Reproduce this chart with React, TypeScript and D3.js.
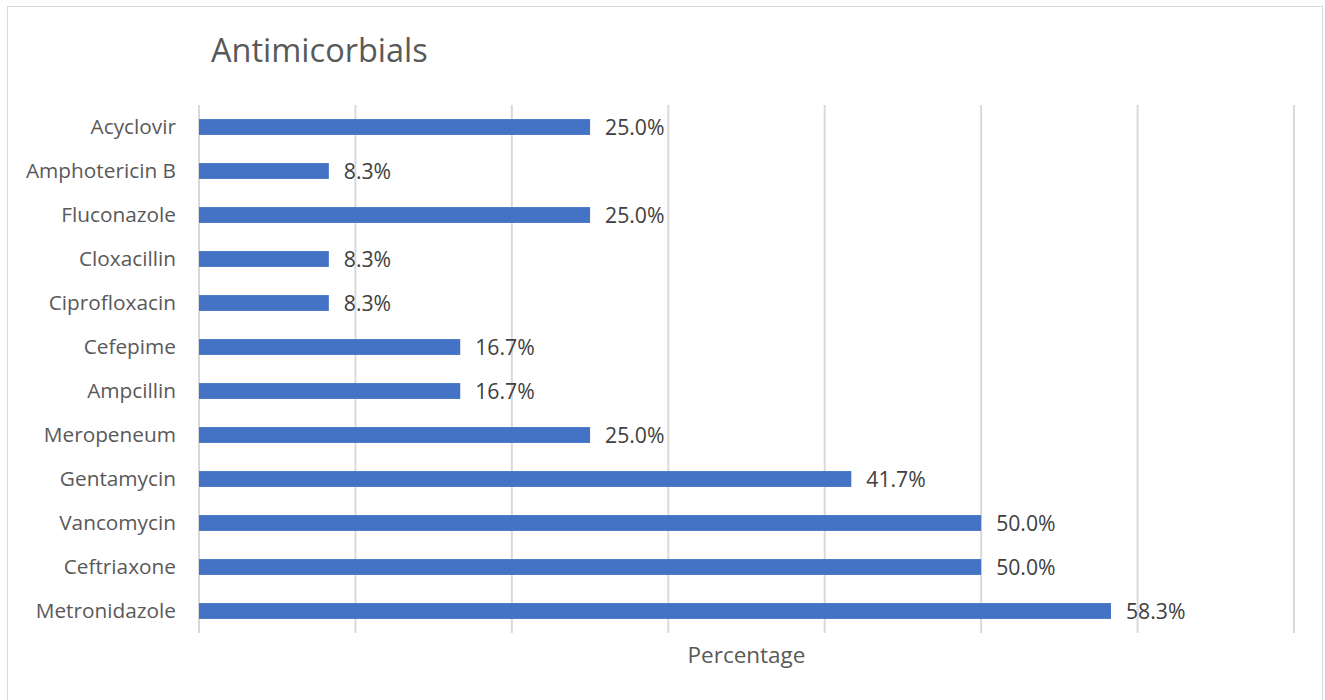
import React from "react";
import * as d3 from "d3";

const categories = [
  "Acyclovir",
  "Amphotericin B",
  "Fluconazole",
  "Cloxacillin",
  "Ciprofloxacin",
  "Cefepime",
  "Ampcillin",
  "Meropeneum",
  "Gentamycin",
  "Vancomycin",
  "Ceftriaxone",
  "Metronidazole",
];
const values = [25.0, 8.3, 25.0, 8.3, 8.3, 16.7, 16.7, 25.0, 41.7, 50.0, 50.0, 58.3];
const gridTicks = [0, 10, 20, 30, 40, 50, 60, 70];
const title = "Antimicorbials";
const axisTitle = "Percentage";

const W = 1325;
const H = 700;
const FONT = "'Open Sans', 'Noto Sans', sans-serif";

export default function App() {
  const x = d3.scaleLinear().domain([0, 70]).range([199, 1294]);
  const y = d3.scaleBand().domain(categories).range([105, 633]).paddingInner(0.64).paddingOuter(0.32);
  return (
    <svg width={W} height={H} style={{ position: "absolute", left: 0, top: 0, background: "#fff" }} fontFamily={FONT}>
      <rect x={7.5} y={6.5} width={1315} height={700} fill="#fff" stroke="#d9d9d9" strokeWidth={1} />
      <text x={211} y={62} fontSize={32.5} fill="#595959">{title}</text>
      {gridTicks.map((t) => (
        <line key={t} x1={x(t)} x2={x(t)} y1={105} y2={633} stroke="#d9d9d9" strokeWidth={2} />
      ))}
      {categories.map((c, i) => {
        const yc = (y(c) as number) + y.bandwidth() / 2;
        return (
          <g key={c}>
            <rect x={x(0)} y={y(c)} width={x(values[i]) - x(0)} height={y.bandwidth()} fill="#4472C4" />
            <text x={176} y={yc} dy="0.35em" textAnchor="end" fontSize={20.8} fill="#595959">{c}</text>
            <text x={x(values[i]) + 15} y={yc + 1} dy="0.35em" fontSize={21.2} fill="#404040">
              {values[i].toFixed(1) + "%"}
            </text>
          </g>
        );
      })}
      <text x={(x(0) + x(70)) / 2} y={663} textAnchor="middle" fontSize={22.5} fill="#595959">{axisTitle}</text>
    </svg>
  );
}
